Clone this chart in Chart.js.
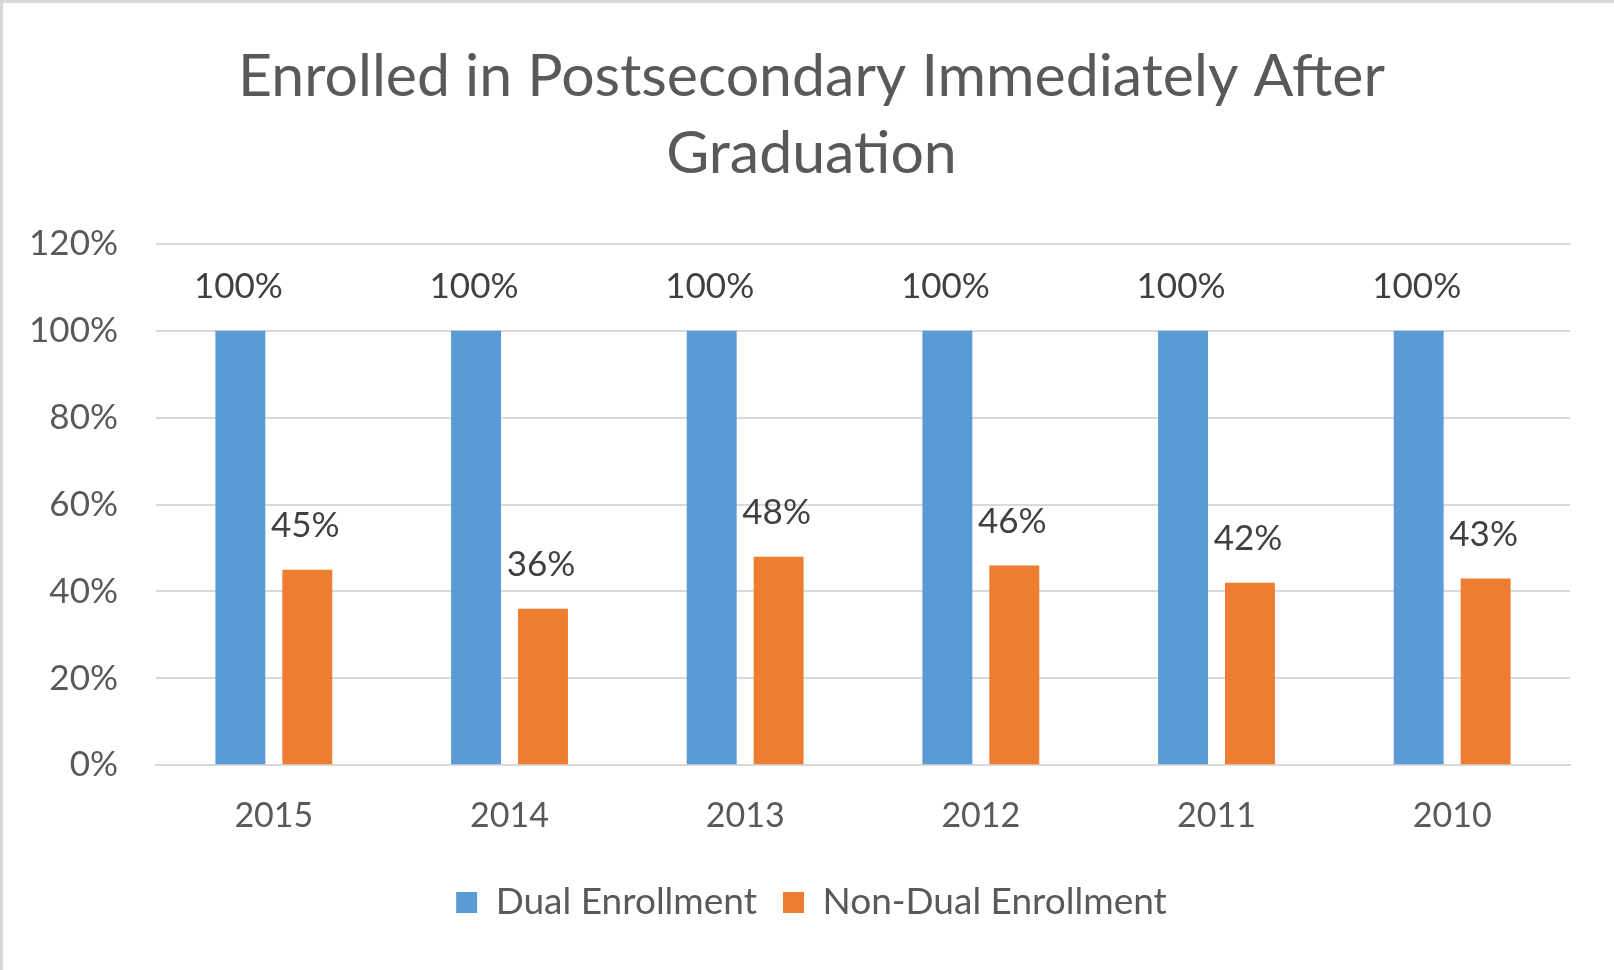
<!DOCTYPE html>
<html>
<head>
<meta charset="utf-8">
<script src="https://cdn.jsdelivr.net/npm/chart.js@4.4.1/dist/chart.umd.min.js"></script>
<style>
  html, body { margin: 0; padding: 0; background: #fff; }
  #wrap { width: 1614px; height: 970px; box-sizing: border-box; border: 3px solid #d9d9d9; border-right: none; border-bottom: none; }
</style>
</head>
<body>
<div id="wrap"><canvas id="myChart"></canvas></div>
<script>
// DATA
var years = ['2015', '2014', '2013', '2012', '2011', '2010'];
var dualValues = [100, 100, 100, 100, 100, 100];
var nonDualValues = [45, 36, 48, 46, 42, 43];
var yMin = 0, yMax = 120, yStep = 20;

var FONT = 'Lato';
var GREY = '#595959';

// draw the value labels above each bar
var barLabels = {
  id: 'barLabels',
  afterDatasetsDraw: function (chart) {
    var ctx = chart.ctx;
    ctx.save();
    ctx.font = '35px ' + FONT;
    ctx.fillStyle = '#404040';
    ctx.textAlign = 'center';
    ctx.textBaseline = 'middle';
    chart.data.datasets.forEach(function (ds, i) {
      chart.getDatasetMeta(i).data.forEach(function (bar, j) {
        ctx.fillText(ds.data[j] + '%', bar.x - 2, bar.y - 44);
      });
    });
    ctx.restore();
  }
};

// y tick labels stick out past the left padding, so don't let the axis clip them
var unclipY = {
  id: 'unclipY',
  afterLayout: function (chart) { chart.scales.y.left = 0; }
};

const data = {
  labels: years,
  datasets: [
    { label: 'Dual Enrollment', data: dualValues, backgroundColor: '#5B9BD5' },
    { label: 'Non-Dual Enrollment', data: nonDualValues, backgroundColor: '#ED7D31' }
  ]
};

const config = {
  type: 'bar',
  data: data,
  plugins: [barLabels, unclipY],
  options: {
    responsive: true,
    maintainAspectRatio: false,
    animation: false,
    categoryPercentage: 0.568,
    barPercentage: 0.746,
    layout: { padding: { left: 50, right: 44, top: 20, bottom: 39 } },
    plugins: {
      tooltip: { enabled: false },
      title: {
        display: true,
        text: ['Enrolled in Postsecondary Immediately After', 'Graduation'],
        color: GREY,
        font: { family: FONT, size: 59, weight: 'normal', lineHeight: 1.305 },
        padding: { top: 15, bottom: 52 }
      },
      legend: {
        display: true,
        position: 'bottom',
        labels: {
          color: GREY,
          font: { family: FONT, size: 37 },
          boxWidth: 21,
          boxHeight: 21,
          padding: 26
        }
      }
    },
    scales: {
      x: {
        grid: { display: false },
        border: { color: '#d9d9d9', width: 2 },
        ticks: { color: GREY, font: { family: FONT, size: 34 }, padding: 22 }
      },
      y: {
        min: yMin,
        max: yMax,
        border: { display: false },
        grid: { color: '#d9d9d9', lineWidth: 2, drawTicks: false },
        afterFit: function (scale) { scale.width = 103; },
        ticks: {
          stepSize: yStep,
          color: GREY,
          font: { family: FONT, size: 35 },
          padding: 38,
          callback: function (v) { return v + '%'; }
        }
      }
    }
  }
};

const myChart = new Chart(document.getElementById('myChart'), config);
</script>
</body>
</html>
